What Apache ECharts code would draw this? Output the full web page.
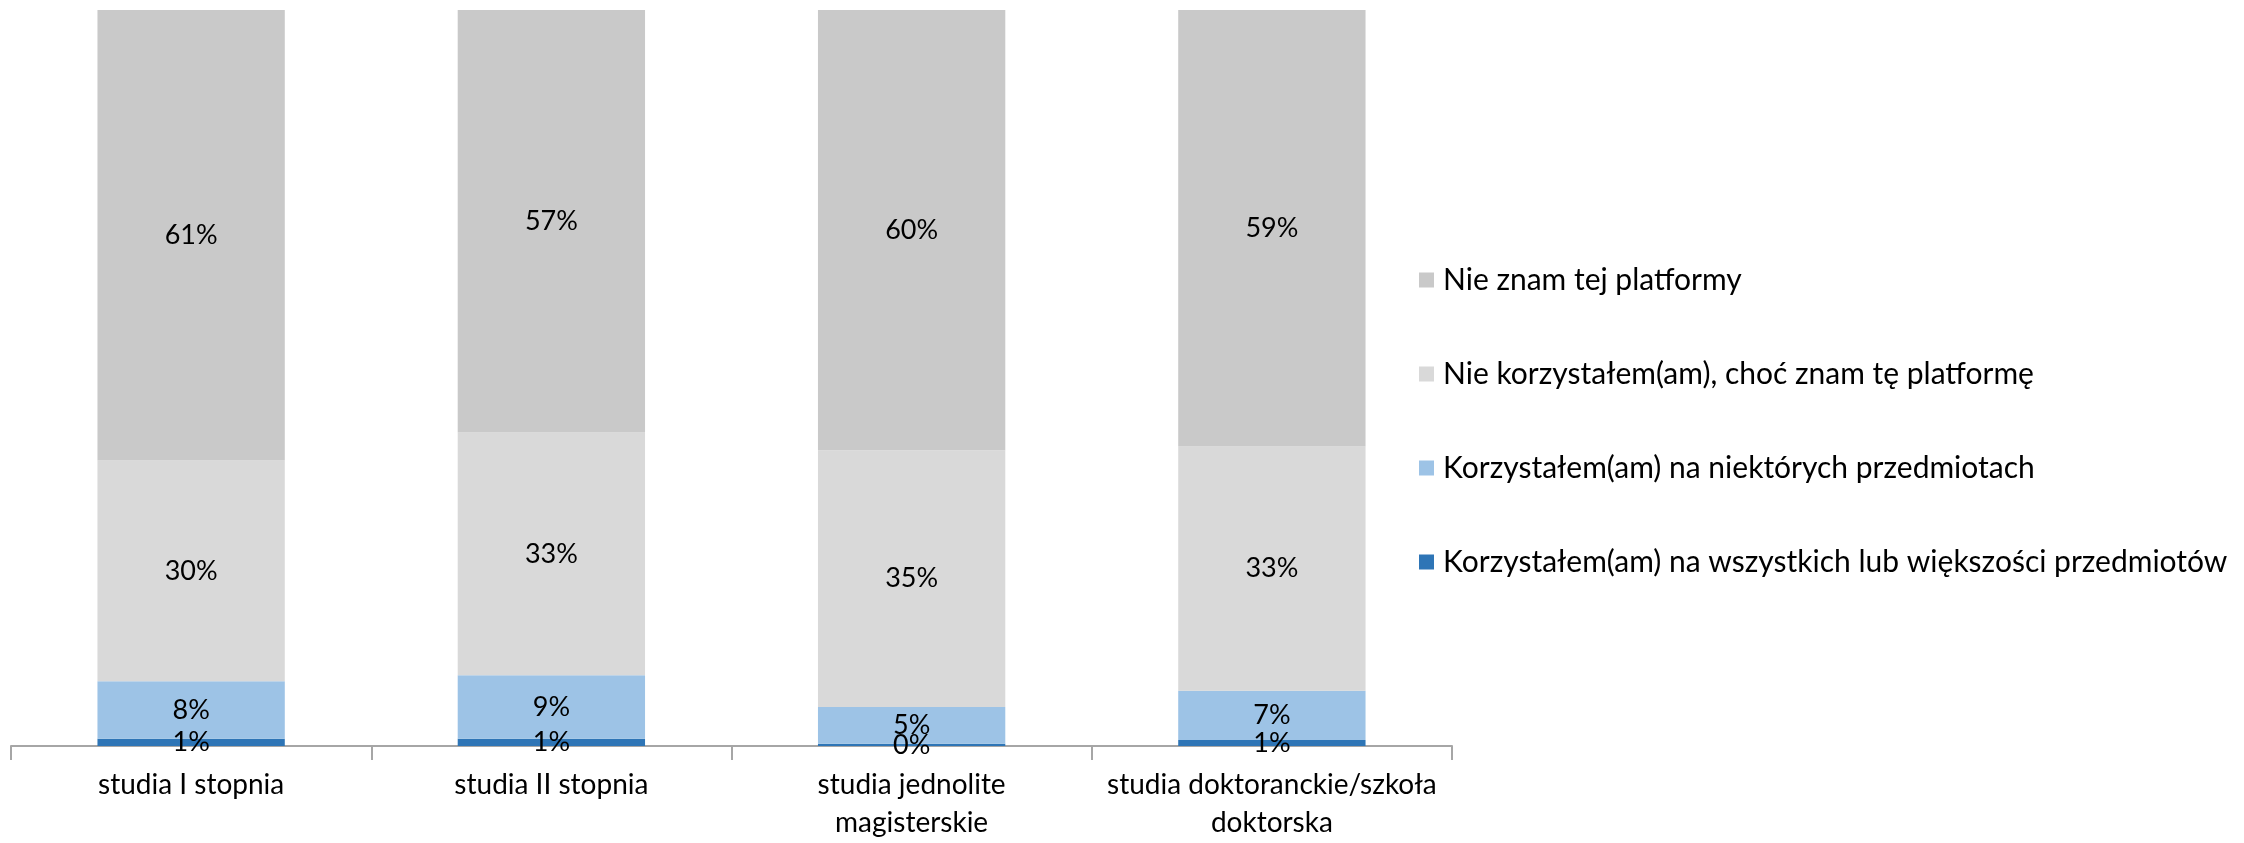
<!DOCTYPE html>
<html>
<head>
<meta charset="utf-8">
<script src="https://cdn.jsdelivr.net/npm/echarts@6/dist/echarts.min.js"></script>
<style>html,body{margin:0;padding:0;background:#fff}#c{width:2244px;height:843px}</style>
</head>
<body>
<div id="c"></div>
<script>
var categories = ['studia I stopnia', 'studia II stopnia', 'studia jednolite\nmagisterskie', 'studia doktoranckie/szkoła\ndoktorska'];
var seriesNames = ['Korzystałem(am) na wszystkich lub większości przedmiotów', 'Korzystałem(am) na niektórych przedmiotach', 'Nie korzystałem(am), choć znam tę platformę', 'Nie znam tej platformy'];
var wszystkie = [1.0, 1.0, 0.3, 0.8];
var niektore = [7.8, 8.6, 5.0, 6.7];
var nieKorzystalem = [30.0, 33.0, 34.9, 33.2];
var nieZnam = [61.2, 57.4, 59.8, 59.3];
var colors = ['#2E75B6', '#9DC3E6', '#D9D9D9', '#C9C9C9'];
var values = [wszystkie, niektore, nieKorzystalem, nieZnam];
var FONT = 'Lato';

var series = seriesNames.map(function (n, i) {
  return {
    name: n, type: 'bar', stack: 'total', barWidth: '52%',
    data: values[i],
    itemStyle: { color: colors[i] },
    label: {
      show: true, position: 'inside', color: '#000', fontFamily: FONT, fontSize: 27,
      formatter: function (p) { return Math.round(p.value) + '%'; }
    }
  };
});

var chart = echarts.init(document.getElementById('c'));
chart.setOption({
  animation: false,
  grid: { left: 11, right: 792, top: 10, bottom: 97, containLabel: false },
  legend: {
    orient: 'vertical', left: 1414, top: 260, itemGap: 64, itemWidth: 15, itemHeight: 15,
    icon: 'rect',
    data: seriesNames.slice().reverse(),
    textStyle: { fontFamily: FONT, fontSize: 30, color: '#000', padding: [0, 0, 0, 4] }
  },
  xAxis: {
    type: 'category', data: categories,
    axisLine: { lineStyle: { color: '#A6A6A6', width: 2 } },
    axisTick: { show: true, interval: 0, length: 14, lineStyle: { color: '#A6A6A6', width: 2 } },
    axisLabel: { interval: 0, fontFamily: FONT, fontSize: 28, color: '#000', margin: 20, lineHeight: 38 }
  },
  yAxis: { type: 'value', min: 0, max: 100, show: false, splitLine: { show: false } },
  series: series
});
</script>
</body>
</html>
